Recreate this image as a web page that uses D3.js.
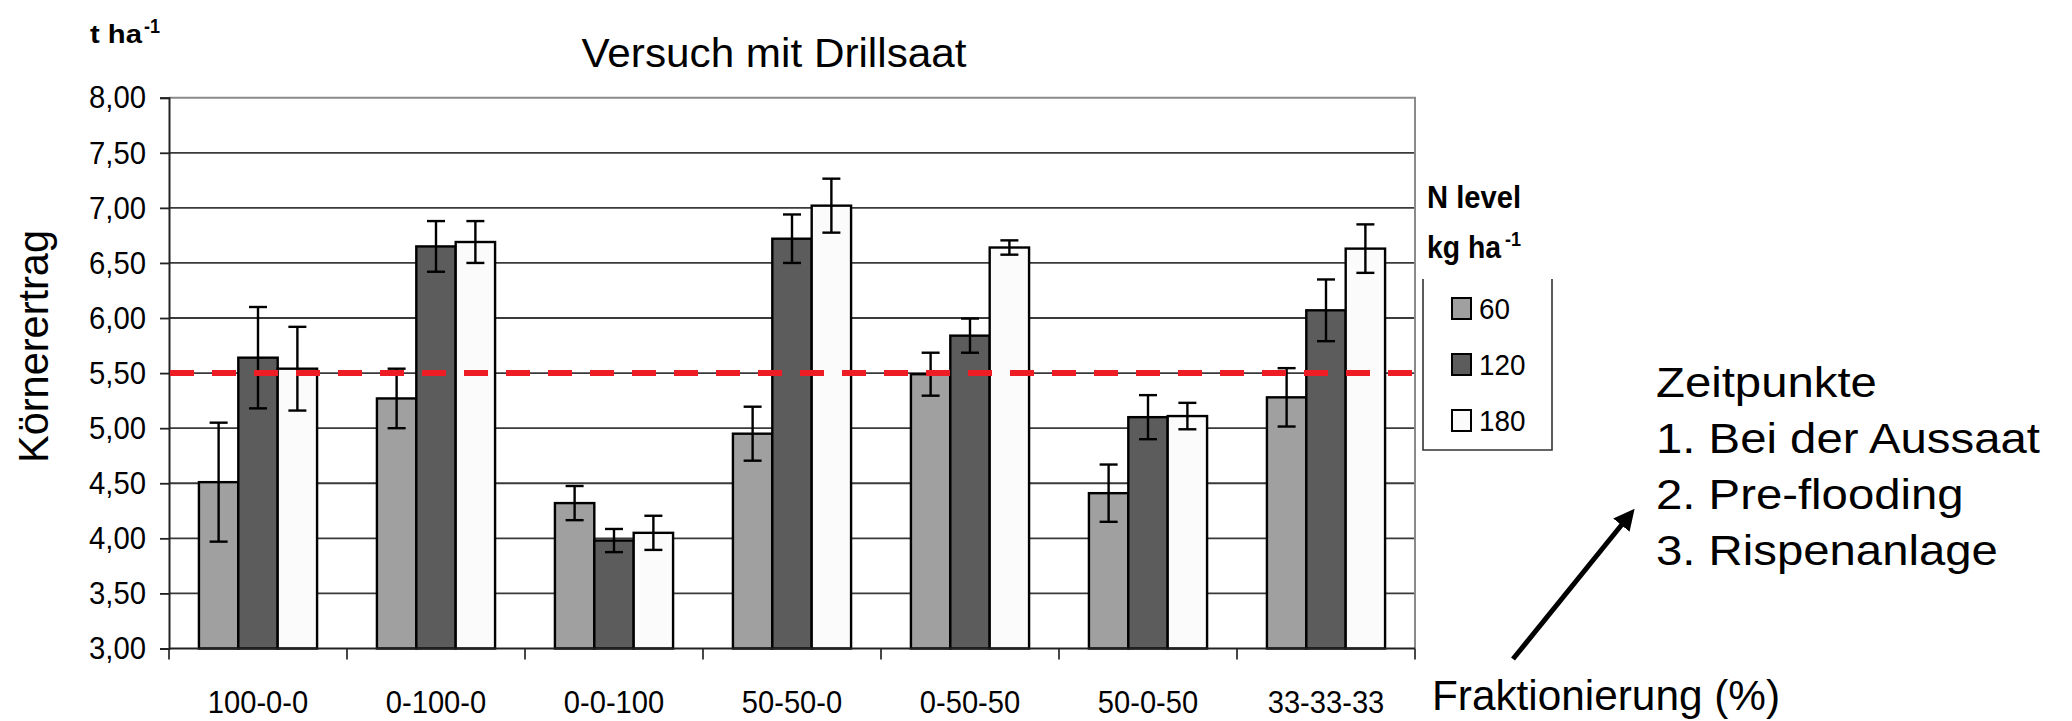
<!DOCTYPE html>
<html><head><meta charset="utf-8">
<script src="https://cdn.jsdelivr.net/npm/d3@7"></script>
<style>
html,body{margin:0;padding:0;background:#fff;}
text{font-family:"Liberation Sans",Arial,sans-serif;fill:#000;}
</style></head>
<body>
<svg id="chart" width="2072" height="721"></svg>
<script>
// ---------- data ----------
const categories = ["100-0-0","0-100-0","0-0-100","50-50-0","0-50-50","50-0-50","33-33-33"];
const seriesNames = ["60","120","180"];
const n60  = [4.51, 5.27, 4.32, 4.95, 5.49, 4.41, 5.28];
const n120 = [5.64, 6.65, 3.98, 6.72, 5.84, 5.10, 6.07];
const n180 = [5.54, 6.69, 4.05, 7.02, 6.64, 5.11, 6.63];
const err60  = [0.54, 0.27, 0.155, 0.245, 0.195, 0.26, 0.265];
const err120 = [0.46, 0.23, 0.105, 0.22, 0.155, 0.20, 0.28];
const err180 = [0.38, 0.19, 0.155, 0.245, 0.065, 0.12, 0.22];
const yTicks = [3, 3.5, 4, 4.5, 5, 5.5, 6, 6.5, 7, 7.5, 8];
const refLine = 5.5;
const zeitText = ["Zeitpunkte", "1. Bei der Aussaat", "2. Pre-flooding", "3. Rispenanlage"];

const seriesVals = [n60, n120, n180];
const seriesErr = [err60, err120, err180];
const fills = ["#a0a0a0", "#5c5c5c", "#fbfbfb"];

// ---------- layout ----------
const svg = d3.select("#chart");
const L = 169, R = 1415, T = 97.7, B = 648.5;

const x = d3.scaleBand().domain(categories).range([L, R]).padding(0);
const xi = d3.scaleBand().domain(seriesNames).range([0, x.bandwidth()]).paddingInner(0).paddingOuter(0.76);
const y = d3.scaleLinear().domain([3, 8]).range([B, T]);

function fit(sel, factor) {
  sel.each(function () {
    const l = this.getComputedTextLength();
    this.setAttribute("textLength", l * factor);
    this.setAttribute("lengthAdjust", "spacingAndGlyphs");
  });
}

// gridlines
svg.append("g").selectAll("line").data(yTicks.filter(v => v > 3 && v < 8)).join("line")
  .attr("x1", L).attr("x2", R).attr("y1", d => y(d)).attr("y2", d => y(d))
  .attr("stroke", "#3a3a3a").attr("stroke-width", 1.8);
// top & right border
svg.append("path").attr("d", `M${L},${y(8)}H${R}V${B}`).attr("fill", "none")
  .attr("stroke", "#8a8a8a").attr("stroke-width", 2);

// x boundary ticks
const bounds = categories.map(c => x(c)).concat([R]);
svg.append("g").selectAll("line").data(bounds).join("line")
  .attr("x1", d => d).attr("x2", d => d).attr("y1", B).attr("y2", B + 11)
  .attr("stroke", "#333").attr("stroke-width", 1.8);

// bars
const gBars = svg.append("g");
seriesNames.forEach((s, si) => {
  gBars.append("g").selectAll("rect").data(categories).join("rect")
    .attr("x", c => x(c) + xi(s))
    .attr("width", xi.bandwidth())
    .attr("y", (c, i) => y(seriesVals[si][i]))
    .attr("height", (c, i) => B - y(seriesVals[si][i]))
    .attr("fill", fills[si]).attr("stroke", "#000").attr("stroke-width", 2.4);
});
// error bars
seriesNames.forEach((s, si) => {
  const g = svg.append("g").attr("stroke", "#000").attr("stroke-width", 2.4);
  categories.forEach((c, i) => {
    const cx = x(c) + xi(s) + xi.bandwidth() / 2;
    const v = seriesVals[si][i], e = seriesErr[si][i];
    g.append("line").attr("x1", cx).attr("x2", cx).attr("y1", y(v + e)).attr("y2", y(v - e));
    g.append("line").attr("x1", cx - 9).attr("x2", cx + 9).attr("y1", y(v + e)).attr("y2", y(v + e));
    g.append("line").attr("x1", cx - 9).attr("x2", cx + 9).attr("y1", y(v - e)).attr("y2", y(v - e));
  });
});

// y axis
const yAxis = svg.append("g").attr("transform", `translate(${L},0)`)
  .call(d3.axisLeft(y).tickValues(yTicks).tickSize(9).tickPadding(14)
    .tickFormat(d => d.toFixed(2).replace(".", ",")));
yAxis.select(".domain").attr("stroke", "#222").attr("stroke-width", 2);
yAxis.selectAll(".tick line").attr("stroke", "#222").attr("stroke-width", 1.8);
yAxis.selectAll("text").attr("font-size", 32).attr("font-family", "Liberation Sans").attr("fill", "#000");
fit(yAxis.selectAll("text"), 0.915);

// bottom axis line
svg.append("line").attr("x1", L).attr("x2", R).attr("y1", B).attr("y2", B)
  .attr("stroke", "#222").attr("stroke-width", 2);

// category labels
const catLab = svg.append("g").selectAll("text").data(categories).join("text")
  .attr("x", c => x(c) + x.bandwidth() / 2).attr("y", 713)
  .attr("text-anchor", "middle").attr("font-size", 32).text(c => c);
fit(catLab, 0.91);

// red reference line
svg.append("line").attr("x1", L + 1).attr("x2", R - 1).attr("y1", y(refLine)).attr("y2", y(refLine))
  .attr("stroke", "#ee1c25").attr("stroke-width", 6).attr("stroke-dasharray", "24 18");

// title
svg.append("text").attr("x", 774).attr("y", 66.7).attr("text-anchor", "middle")
  .attr("font-size", 40).attr("textLength", 385).attr("lengthAdjust", "spacingAndGlyphs")
  .text("Versuch mit Drillsaat");

// t ha-1
svg.append("text").attr("x", 90).attr("y", 43).attr("font-size", 25).attr("font-weight", "bold")
  .attr("textLength", 52).attr("lengthAdjust", "spacingAndGlyphs").text("t ha");
svg.append("text").attr("x", 144).attr("y", 33).attr("font-size", 20).attr("font-weight", "bold")
  .attr("textLength", 16).attr("lengthAdjust", "spacingAndGlyphs").text("-1");

// y title
svg.append("text").attr("transform", "translate(48,346.5) rotate(-90)").attr("text-anchor", "middle")
  .attr("font-size", 42).attr("textLength", 233).attr("lengthAdjust", "spacingAndGlyphs")
  .text("Körnerertrag");

// legend
svg.append("text").attr("x", 1427).attr("y", 208).attr("font-size", 31).attr("font-weight", "bold")
  .attr("textLength", 94).attr("lengthAdjust", "spacingAndGlyphs").text("N level");
svg.append("text").attr("x", 1427).attr("y", 258).attr("font-size", 31).attr("font-weight", "bold")
  .attr("textLength", 74).attr("lengthAdjust", "spacingAndGlyphs").text("kg ha");
svg.append("text").attr("x", 1505).attr("y", 246).attr("font-size", 20).attr("font-weight", "bold")
  .attr("textLength", 16).attr("lengthAdjust", "spacingAndGlyphs").text("-1");
svg.append("path").attr("d", "M1423,279V450H1552V279").attr("fill", "none")
  .attr("stroke", "#333").attr("stroke-width", 1.6);
const leg = svg.append("g").selectAll("g").data(seriesNames).join("g")
  .attr("transform", (d, i) => `translate(1452,${298 + i * 56})`);
leg.append("rect").attr("width", 19).attr("height", 21)
  .attr("fill", (d, i) => fills[i]).attr("stroke", "#000").attr("stroke-width", 2);
const legT = leg.append("text").attr("x", 27).attr("y", 21).attr("font-size", 29).text(d => d);
fit(legT, 0.96);

// right annotation
const zt = svg.append("g").selectAll("text").data(zeitText).join("text")
  .attr("x", 1656).attr("y", (d, i) => 397 + i * 56).attr("font-size", 43).text(d => d);
fit(zt, 1.1);

// Fraktionierung
const fr = svg.append("text").attr("x", 1432).attr("y", 710).attr("font-size", 42).text("Fraktionierung (%)");
fr.attr("textLength", 348).attr("lengthAdjust", "spacingAndGlyphs");

// arrow
svg.append("defs").append("marker").attr("id", "ah").attr("viewBox", "0 0 10 10")
  .attr("refX", 5).attr("refY", 5).attr("markerWidth", 4.2).attr("markerHeight", 4.2)
  .attr("orient", "auto").attr("markerUnits", "strokeWidth")
  .append("path").attr("d", "M0,0L10,5L0,10z").attr("fill", "#000");
svg.append("line").attr("x1", 1513).attr("y1", 659).attr("x2", 1628).attr("y2", 517)
  .attr("stroke", "#000").attr("stroke-width", 5).attr("marker-end", "url(#ah)");
</script>
</body></html>
